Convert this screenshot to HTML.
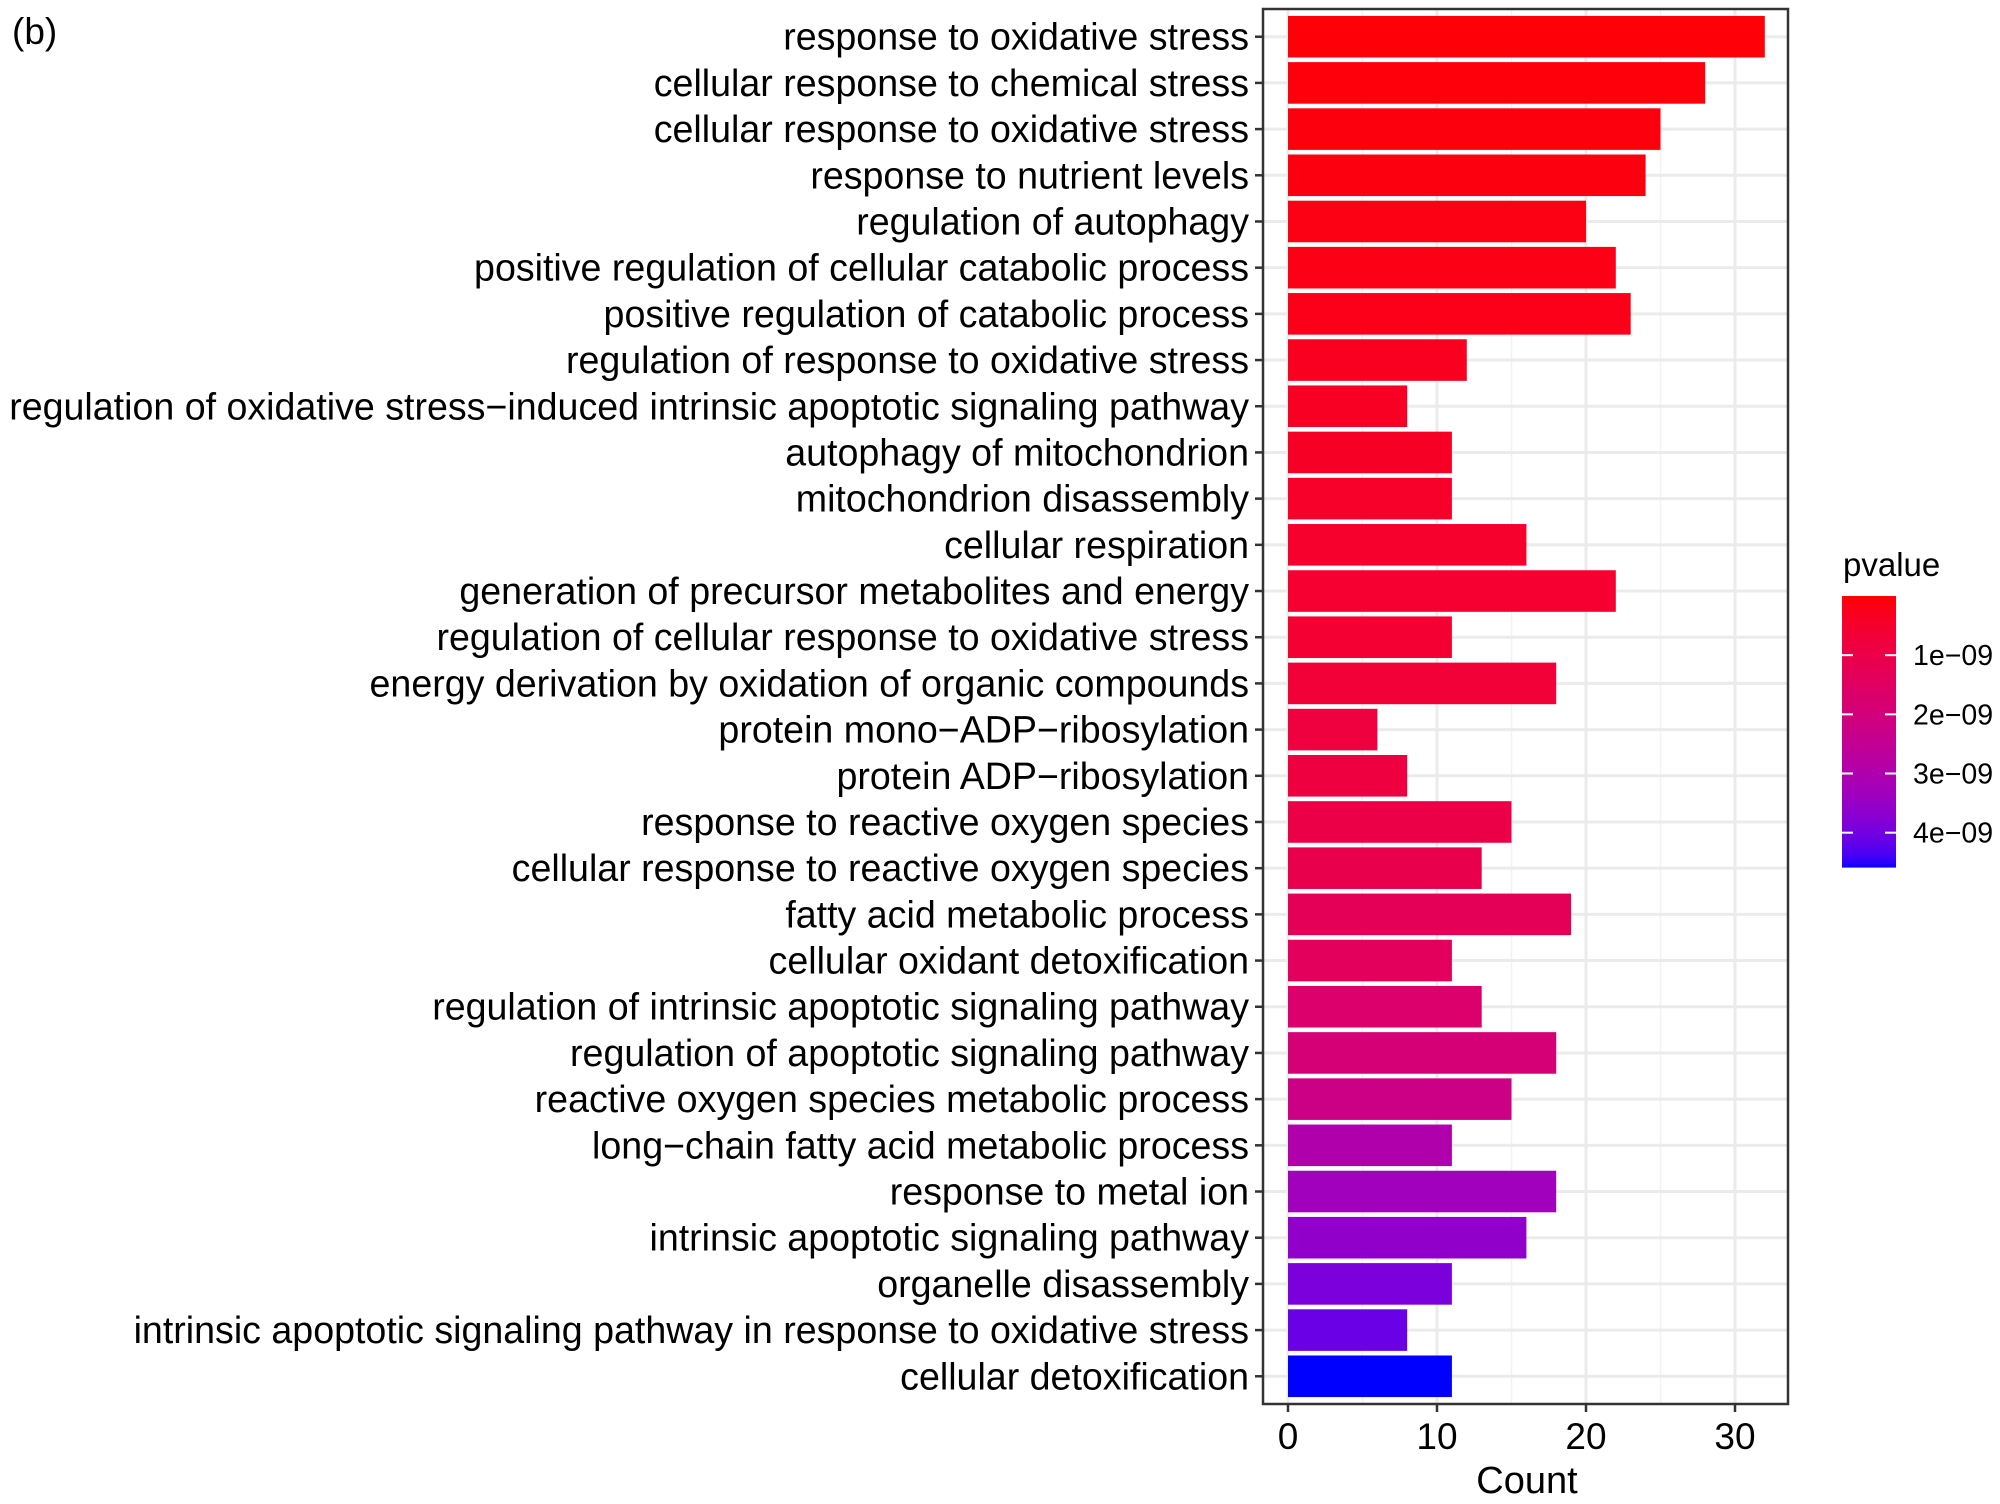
<!DOCTYPE html>
<html><head><meta charset="utf-8"><style>
html,body{margin:0;padding:0;background:#fff}
svg{display:block;font-family:"Liberation Sans",Arial,sans-serif}
</style></head><body>
<svg id="chart" width="2000" height="1504" viewBox="0 0 2000 1504" xmlns="http://www.w3.org/2000/svg">
<text x="12" y="44" font-size="37" fill="#000">(b)</text>
<g id="grid"></g><g id="bars"></g><g id="axes"></g><g id="legend"></g>
</svg>
<script>
const categories = ["response to oxidative stress","cellular response to chemical stress","cellular response to oxidative stress","response to nutrient levels","regulation of autophagy","positive regulation of cellular catabolic process","positive regulation of catabolic process","regulation of response to oxidative stress","regulation of oxidative stress\u2212induced intrinsic apoptotic signaling pathway","autophagy of mitochondrion","mitochondrion disassembly","cellular respiration","generation of precursor metabolites and energy","regulation of cellular response to oxidative stress","energy derivation by oxidation of organic compounds","protein mono\u2212ADP\u2212ribosylation","protein ADP\u2212ribosylation","response to reactive oxygen species","cellular response to reactive oxygen species","fatty acid metabolic process","cellular oxidant detoxification","regulation of intrinsic apoptotic signaling pathway","regulation of apoptotic signaling pathway","reactive oxygen species metabolic process","long\u2212chain fatty acid metabolic process","response to metal ion","intrinsic apoptotic signaling pathway","organelle disassembly","intrinsic apoptotic signaling pathway in response to oxidative stress","cellular detoxification"];
const counts = [32,28,25,24,20,22,23,12,8,11,11,16,22,11,18,6,8,15,13,19,11,13,18,15,11,18,16,11,8,11];
const pvaluesE9 = [0.05,0.08,0.1,0.12,0.15,0.18,0.2,0.3,0.35,0.4,0.45,0.5,0.55,0.6,0.7,0.8,0.85,1.0,1.1,1.3,1.4,1.7,1.9,2.2,3.0,3.3,3.6,3.9,4.1,4.58];
const xTicks = [0,10,20,30];
const xMinor = [5,15,25];
const legendTicks = [1,2,3,4];
const legendLabels = ["1e\u221209","2e\u221209","3e\u221209","4e\u221209"];

const NS="http://www.w3.org/2000/svg";
const P={l:1263,r:1788,t:9,b:1404};
const x0=1288, ppu=14.9;
const xs=v=>x0+v*ppu;
const n=categories.length, step=(P.b-P.t)/(n+0.2);
const ys=i=>P.t+step*(0.6+i);
const pMin=0, pMax=Math.max(...pvaluesE9);
function mk(tag,attrs,parent){const e=document.createElementNS(NS,tag);for(const k in attrs)e.setAttribute(k,attrs[k]);parent.appendChild(e);return e;}
function s2l(c){c/=255;return c<=0.04045?c/12.92:Math.pow((c+0.055)/1.055,2.4);}
function l2s(c){c=c<=0.0031308?12.92*c:1.055*Math.pow(c,1/2.4)-0.055;return Math.round(Math.max(0,Math.min(1,c))*255);}
function toLab(r,g,b){r=s2l(r);g=s2l(g);b=s2l(b);let X=(0.4124*r+0.3576*g+0.1805*b)/0.95047,Y=0.2126*r+0.7152*g+0.0722*b,Z=(0.0193*r+0.1192*g+0.9505*b)/1.08883;const f=t=>t>0.008856?Math.cbrt(t):7.787*t+16/116;return[116*f(Y)-16,500*(f(X)-f(Y)),200*(f(Y)-f(Z))];}
function fromLab(L,a,b){const fy=(L+16)/116,fx=fy+a/500,fz=fy-b/200;const fi=t=>t*t*t>0.008856?t*t*t:(t-16/116)/7.787;const X=fi(fx)*0.95047,Y=fi(fy),Z=fi(fz)*1.08883;return[l2s(3.2406*X-1.5372*Y-0.4986*Z),l2s(-0.9689*X+1.8758*Y+0.0415*Z),l2s(0.0557*X-0.2040*Y+1.0570*Z)];}
const LR=toLab(255,0,0), LB=toLab(0,0,255);
function col(p){const t=Math.max(0,Math.min(1,(p-pMin)/(pMax-pMin)));const c=fromLab(LR[0]+(LB[0]-LR[0])*t,LR[1]+(LB[1]-LR[1])*t,LR[2]+(LB[2]-LR[2])*t);return`rgb(${c[0]},${c[1]},${c[2]})`;}

const grid=document.getElementById('grid'),bars=document.getElementById('bars'),axes=document.getElementById('axes'),leg=document.getElementById('legend');
mk('rect',{x:P.l,y:P.t,width:P.r-P.l,height:P.b-P.t,fill:'#fff'},grid);
xMinor.forEach(v=>{const l=mk('line',{x1:xs(v),x2:xs(v),y1:P.t,y2:P.b,stroke:'#f2f2f2','stroke-width':1.5},grid);

});
xTicks.forEach(v=>{const l=mk('line',{x1:xs(v),x2:xs(v),y1:P.t,y2:P.b,stroke:'#ebebeb','stroke-width':3},grid);

});
categories.forEach((c,i)=>{const l=mk('line',{x1:P.l,x2:P.r,y1:ys(i),y2:ys(i),stroke:'#ebebeb','stroke-width':3},grid);

});
const bh=step*0.9;
categories.forEach((c,i)=>{
 const r=mk('rect',{x:xs(0),y:ys(i)-bh/2,width:xs(counts[i])-xs(0),height:bh,fill:col(pvaluesE9[i])},bars);
 
 
 const tk=mk('line',{x1:P.l-8,x2:P.l,y1:ys(i),y2:ys(i),stroke:'#333','stroke-width':2.5},axes);
 
 
 const t=mk('text',{x:P.l-14,y:ys(i)+13,'text-anchor':'end','font-size':37.6,fill:'#000'},axes);
 t.textContent=c;
 
 
});
const border=mk('rect',{x:P.l,y:P.t,width:P.r-P.l,height:P.b-P.t,fill:'none',stroke:'#333','stroke-width':2.5},axes);


xTicks.forEach(v=>{
 const tk=mk('line',{x1:xs(v),x2:xs(v),y1:P.b,y2:P.b+8,stroke:'#333','stroke-width':2.5},axes);
 
 
 const t=mk('text',{x:xs(v),y:1449,'text-anchor':'middle','font-size':37,fill:'#000'},axes);
 t.textContent=String(v);
 
 
});
const xt=mk('text',{x:1527,y:1493,'text-anchor':'middle','font-size':38,fill:'#000'},axes);
xt.textContent='Count';


const LT=596,LBt=867,LX=1842,LW=54;
const lpx=(LBt-LT)/(pMax-pMin);
const ly=p=>LT+(p-pMin)*lpx;
const lt=mk('text',{x:1843,y:576,'font-size':33,fill:'#000'},leg);
lt.textContent='pvalue';


for(let k=0;k<100;k++){const p0=pMin+(pMax-pMin)*k/100;mk('rect',{x:LX,y:ly(p0),width:LW,height:(LBt-LT)/100+0.6,fill:col(p0+(pMax-pMin)/200)},leg);}
legendTicks.forEach((v,i)=>{
 mk('line',{x1:LX,x2:LX+11,y1:ly(v),y2:ly(v),stroke:'#fff','stroke-width':2},leg);
 mk('line',{x1:LX+LW-11,x2:LX+LW,y1:ly(v),y2:ly(v),stroke:'#fff','stroke-width':2},leg);
 const t=mk('text',{x:1913,y:ly(v)+10,'font-size':28.5,fill:'#000'},leg);
 t.textContent=legendLabels[i];
 
 
});
</script>
</body></html>
